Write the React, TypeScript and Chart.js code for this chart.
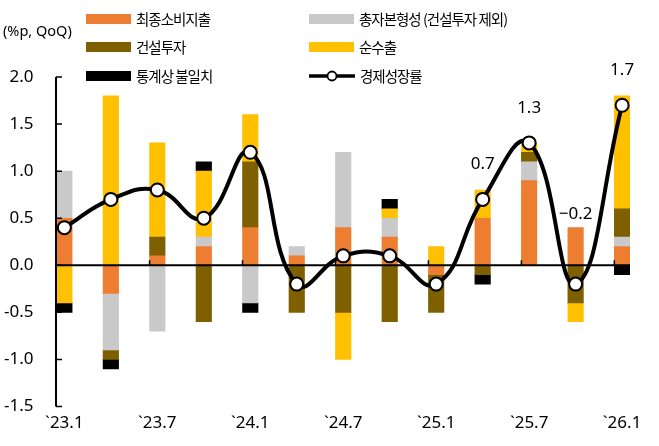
import React, { useEffect, useRef } from 'react';
import { Chart, registerables } from 'chart.js';

Chart.register(...registerables);

// quarters on the category axis
const quarters = ['`23.1', '`23.4', '`23.7', '`23.10', '`24.1', '`24.4', '`24.7', '`24.10', '`25.1', '`25.4', '`25.7', '`25.10', '`26.1'];

// contributions to growth, %p
const consumption = [0.5, -0.3, 0.1, 0.2, 0.4, 0.1, 0.4, 0.3, -0.1, 0.5, 0.9, 0.4, 0.2];
const capitalExConstruction = [0.5, -0.6, -0.7, 0.1, -0.4, 0.1, 0.8, 0.2, 0, 0, 0.2, 0, 0.1];
const construction = [0, -0.1, 0.2, -0.6, 0.7, -0.5, -0.5, -0.6, -0.4, -0.1, 0.1, -0.4, 0.3];
const netExports = [-0.4, 1.8, 1.0, 0.7, 0.5, 0, -0.5, 0.1, 0.2, 0.3, 0.1, -0.2, 1.2];
const discrepancy = [-0.1, -0.1, 0, 0.1, -0.1, 0, 0, 0.1, 0, -0.1, 0, 0, -0.1];
const gdpGrowth = [0.4, 0.7, 0.8, 0.5, 1.2, -0.2, 0.1, 0.1, -0.2, 0.7, 1.3, -0.2, 1.7];

const seriesNames = ['최종소비지출', '총자본형성 (건설투자 제외)', '건설투자', '순수출', '통계상 불일치', '경제성장률'];
const seriesColors = ['#ED7D31', '#C9C9C9', '#7F6000', '#FFC000', '#000000'];
const barSeries = [consumption, capitalExConstruction, construction, netExports, discrepancy];

const labeledPoints = [9, 10, 11, 12];

const NUM_FONT = '"Noto Sans", sans-serif';
const KR_FONT = '"Noto Sans CJK KR", sans-serif';
const BAR_W = 15.5;

const axisDecor = {
  id: 'axisDecor',
  beforeDatasetDraw(chart: any, args: any) {
    if (args.index !== barSeries.length) return;
    const { ctx, chartArea } = chart;
    const xs = chart.scales.x;
    const ys = chart.scales.y;
    const y0 = ys.getPixelForValue(0);
    ctx.save();
    ctx.strokeStyle = '#000';
    ctx.lineWidth = 2;
    ctx.beginPath();
    // value axis line
    ctx.moveTo(chartArea.left, chartArea.top);
    ctx.lineTo(chartArea.left, chartArea.bottom);
    // zero line
    ctx.moveTo(chartArea.left, y0);
    ctx.lineTo(chartArea.right, y0);
    ctx.stroke();
    ctx.beginPath();
    ctx.lineWidth = 1.5;
    ys.ticks.forEach((t: any) => {
      const py = ys.getPixelForValue(t.value);
      ctx.moveTo(chartArea.left, py);
      ctx.lineTo(chartArea.left + 6, py);
    });
    for (let i = 2; i < quarters.length; i += 2) {
      const px = xs.getPixelForValue(i) - BAR_W / 2;
      ctx.moveTo(px, y0);
      ctx.lineTo(px, y0 - 5);
    }
    ctx.stroke();
    ctx.restore();
  },
};

const pointLabels = {
  id: 'pointLabels',
  afterDatasetsDraw(chart: any) {
    const meta = chart.getDatasetMeta(barSeries.length);
    const { ctx } = chart;
    ctx.save();
    ctx.font = `17px ${NUM_FONT}`;
    ctx.fillStyle = '#000';
    ctx.textAlign = 'center';
    ctx.textBaseline = 'middle';
    labeledPoints.forEach((i) => {
      const p = meta.data[i];
      const lift = gdpGrowth[i] < 0 ? 70 : 35;
      const v = gdpGrowth[i];
      const txt = (v < 0 ? '\u2212' : '') + Math.abs(v).toFixed(1);
      ctx.fillText(txt, p.x, p.y - lift);
    });
    ctx.restore();
  },
};

function ChartCanvas() {
  const canvasRef = useRef<HTMLCanvasElement | null>(null);

  useEffect(() => {
    if (!canvasRef.current) return;

    const datasets: any[] = barSeries.map((vals, k) => ({
      type: 'bar',
      label: seriesNames[k],
      data: vals.map((v, i) => ({ x: i, y: v === 0 ? null : v })),
      backgroundColor: seriesColors[k],
      borderWidth: 0,
      barThickness: BAR_W,
      order: 1,
    }));
    datasets.push({
      type: 'line',
      label: seriesNames[5],
      data: gdpGrowth.map((v, i) => ({ x: i, y: v })),
      borderColor: '#000',
      borderWidth: 4,
      tension: 0.45,
      pointRadius: 6.5,
      pointBorderWidth: 2,
      pointBackgroundColor: '#fff',
      pointBorderColor: '#000',
      stack: 'gdp',
      order: 0,
      clip: false,
    });

    const chart = new Chart(canvasRef.current, {
      type: 'bar',
      data: { datasets },
      options: {
        responsive: false,
        animation: false,
        layout: { padding: { top: 77, right: 29, left: 0, bottom: 0 } },
        plugins: { legend: { display: false }, tooltip: { enabled: false } },
        scales: {
          x: {
            type: 'linear',
            offset: false,
            min: -0.18,
            max: 12.17,
            stacked: true,
            grid: { display: false, drawTicks: false, offset: false },
            border: { display: false },
            afterFit: (s: any) => { s.height = 39.5; },
            ticks: {
              stepSize: 2,
              includeBounds: false,
              autoSkip: false,
              maxRotation: 0,
              padding: 6,
              color: '#000',
              font: { family: NUM_FONT, size: 17 },
              callback: (v: any) => quarters[v] ?? '',
            },
          },
          y: {
            min: -1.5,
            max: 2,
            stacked: true,
            grid: { display: false, drawTicks: false },
            border: { display: false },
            afterFit: (s: any) => { s.width = 56; },
            ticks: {
              stepSize: 0.5,
              padding: 22.5,
              color: '#000',
              font: { family: NUM_FONT, size: 17 },
              callback: (v: any) => Number(v).toFixed(1),
            },
          },
        },
      },
      plugins: [axisDecor, pointLabels],
    } as any);

    return () => chart.destroy();
  }, []);

  return <canvas ref={canvasRef} width={659} height={446} style={{ position: 'absolute', left: 0, top: 0 }} />;
}

function Legend() {
  const colX = [86, 309];
  const rowY = [19, 47, 76];
  return (
    <>
      {seriesNames.map((name, i) => {
        const left = colX[i % 2];
        const cy = rowY[Math.floor(i / 2)];
        return (
          <div key={name} style={{ position: 'absolute', left, top: cy - 10, height: 20, display: 'flex', alignItems: 'center' }}>
            {i < barSeries.length ? (
              <div style={{ width: 45, height: 10, background: seriesColors[i] }} />
            ) : (
              <svg width={46} height={14}>
                <line x1={0} y1={7} x2={46} y2={7} stroke="#000" strokeWidth={3.5} />
                <circle cx={23} cy={7} r={4.5} fill="#fff" stroke="#000" strokeWidth={1.8} />
              </svg>
            )}
            <span style={{ marginLeft: 5, fontFamily: KR_FONT, fontSize: 14.5, letterSpacing: -1, color: '#000', whiteSpace: 'nowrap', lineHeight: '20px' }}>{name}</span>
          </div>
        );
      })}
      <div style={{ position: 'absolute', left: 3, top: 20, fontFamily: NUM_FONT, fontSize: 14.5, lineHeight: '20px', color: '#000', whiteSpace: 'nowrap' }}>
        (%p, QoQ)
      </div>
    </>
  );
}

export default function App() {
  return (
    <div style={{ position: 'absolute', left: 0, top: 0, width: 659, height: 446, background: '#fff', overflow: 'hidden' }}>
      <ChartCanvas />
      <Legend />
    </div>
  );
}
